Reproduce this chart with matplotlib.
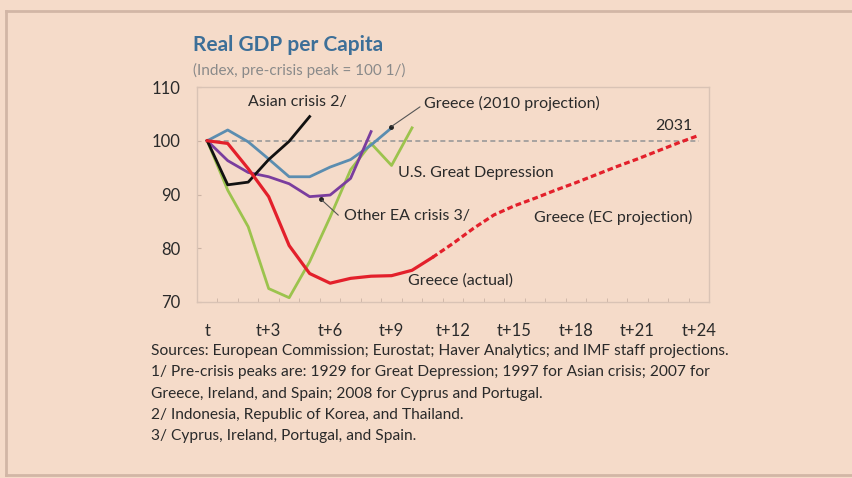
import matplotlib.pyplot as plt
from matplotlib.lines import Line2D

# Real GDP per capita, index (pre-crisis peak = 100), years after peak
great_depression = [100, 90.8, 84.0, 72.5, 70.8, 77.5, 85.8, 94.6, 99.5, 95.4, 102.4]
asian_crisis = [100, 91.8, 92.3, 96.5, 99.9, 104.5]
other_ea = [100, 96.3, 94.1, 93.3, 92.0, 89.6, 89.9, 93.0, 101.7]
greece_2010 = [100, 102.0, 99.8, 96.6, 93.3, 93.3, 95.1, 96.5, 99.2, 102.4]
greece_actual = [100, 99.5, 94.8, 89.6, 80.5, 75.3, 73.5, 74.4, 74.8, 74.9, 75.9, 78.3]
greece_ec = [78.3, 80.9, 83.7, 86.2, 87.9, 89.3, 90.8, 92.2, 93.7, 95.2, 96.6, 98.1, 99.6, 101.0]

tick_pos = [0, 3, 6, 9, 12, 15, 18, 21, 24]
tick_labels = ["t", "t+3", "t+6", "t+9", "t+12", "t+15", "t+18", "t+21", "t+24"]

footnotes = [
    "Sources: European Commission; Eurostat; Haver Analytics; and IMF staff projections.",
    "1/ Pre-crisis peaks are: 1929 for Great Depression; 1997 for Asian crisis; 2007 for",
    "Greece, Ireland, and Spain; 2008 for Cyprus and Portugal.",
    "2/ Indonesia, Republic of Korea, and Thailand.",
    "3/ Cyprus, Ireland, Portugal, and Spain.",
]

plt.rcParams["font.family"] = ["Lato", "DejaVu Sans"]

bg = "#f5dbc9"
txt = "#2a2a2a"

fig = plt.figure(figsize=(8.53, 4.78), dpi=100, facecolor=bg)
ax = fig.add_axes([197 / 853, 1 - 302 / 478, 512 / 853, 215 / 478])
ax.set_facecolor(bg)

# outer border
fig.add_artist(Line2D([6 / 853, 1.0], [1 - 11 / 478] * 2, color="#d2b6a6", lw=2))
fig.add_artist(Line2D([6 / 853] * 2, [1 - 11 / 478, 1 - 475 / 478], color="#d2b6a6", lw=2))
fig.add_artist(Line2D([6 / 853, 1.0], [1 - 475 / 478] * 2, color="#d2b6a6", lw=2))

ax.plot([0, 24], [100, 100], color="#9a9a9a", lw=1.2, ls=(0, (3, 2)))

ax.plot(range(len(great_depression)), great_depression, color="#9cc34d", lw=2)
ax.plot(range(len(greece_2010)), greece_2010, color="#5b8db0", lw=2)
ax.plot(range(len(other_ea)), other_ea, color="#7a3d9e", lw=2)
ax.plot(range(len(asian_crisis)), asian_crisis, color="#111111", lw=2)
ax.plot(range(len(greece_actual)), greece_actual, color="#e3202b", lw=2.3)
ax.plot(range(11, 11 + len(greece_ec)), greece_ec, color="#e3202b", lw=2.3, ls=(0, (1.8, 1.0)))

ax.set_xlim(-0.5, 24.5)
ax.set_ylim(70, 110)
ax.set_yticks([70, 80, 90, 100, 110])
ax.set_xticks(tick_pos)
ax.set_xticklabels(tick_labels)
ax.set_xticks([k + 0.5 for k in range(24)], minor=True)
ax.tick_params(axis="x", which="major", length=0, pad=15, labelsize=12, colors=txt)
ax.tick_params(axis="x", which="minor", direction="in", length=3, color="#cbb3a4")
ax.tick_params(axis="y", direction="in", length=3, color="#cbb3a4", pad=12, labelsize=12, labelcolor=txt)
for s in ax.spines.values():
    s.set_color("#d9c3b5")
    s.set_linewidth(1)

fs = 11.5
ax.text(4.4, 107.2, "Asian crisis 2/", fontsize=fs, color=txt, ha="center", va="center")
ax.text(10.6, 106.9, "Greece (2010 projection)", fontsize=fs, color=txt, ha="left", va="center")
ax.annotate("", xy=(8.9, 102.4), xytext=(10.5, 106.6),
            arrowprops=dict(arrowstyle="-", color="#555555", lw=0.8))
ax.plot([8.95], [102.5], marker="o", ms=2.5, color="#222222")
ax.text(9.3, 94.0, "U.S. Great Depression", fontsize=fs, color=txt, ha="left", va="center")
ax.text(6.7, 86.0, "Other EA crisis 3/", fontsize=fs, color=txt, ha="left", va="center")
ax.annotate("", xy=(5.5, 89.3), xytext=(6.5, 85.8),
            arrowprops=dict(arrowstyle="-", color="#555555", lw=0.8))
ax.plot([5.55], [89.2], marker="o", ms=2.5, color="#222222")
ax.text(23.7, 102.8, "2031", fontsize=fs, color=txt, ha="right", va="center")
ax.text(23.7, 85.8, "Greece (EC projection)", fontsize=fs, color=txt, ha="right", va="center")
ax.text(9.8, 74.0, "Greece (actual)", fontsize=fs, color=txt, ha="left", va="center")

fig.text(193 / 853, 1 - 45 / 478, "Real GDP per Capita", fontsize=15, fontweight="bold",
         color="#3d6f98", ha="left", va="center")
fig.text(193 / 853, 1 - 70 / 478, "(Index, pre-crisis peak = 100 1/)", fontsize=11,
         color="#8a8a8a", ha="left", va="center")

for i, line in enumerate(footnotes):
    fig.text(151 / 853, 1 - (351 + 21.3 * i) / 478, line, fontsize=11.2, color=txt,
             ha="left", va="center")

fig.savefig("out.png", dpi=100, facecolor=bg)
